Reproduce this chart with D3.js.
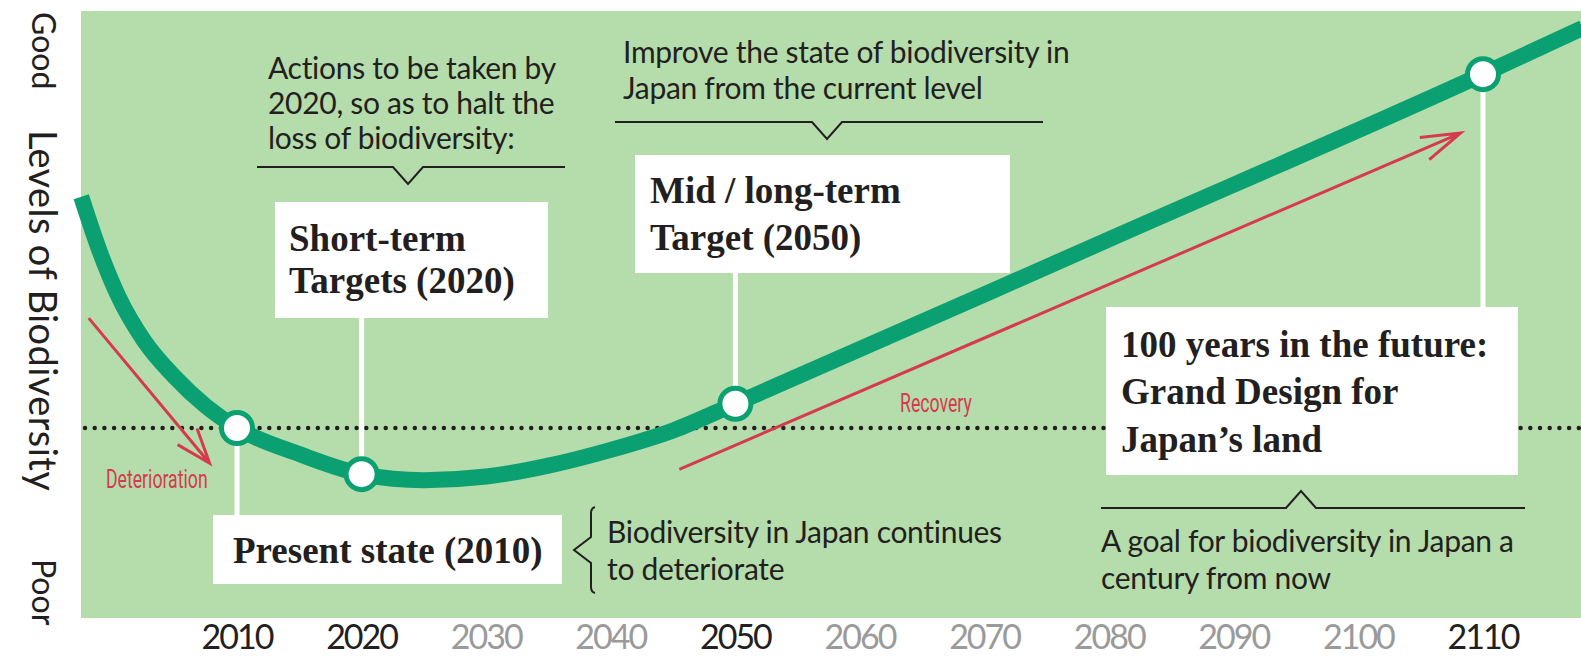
<!DOCTYPE html>
<html lang="en">
<head>
<meta charset="UTF-8">
<title>Levels of Biodiversity</title>
<script src="https://cdn.jsdelivr.net/npm/d3@7"></script>
<style>
    body { margin: 0; background: #fff; }
    svg { display: block; }
    .sans { font-family: Lato, "Open Sans", sans-serif; fill: #231f20; }
    .serif { font-family: "Liberation Serif", "DejaVu Serif", serif; font-weight: bold; fill: #231f20; }
</style>
</head>
<body>
<div id="chart"></div>
<script>
    // values (level: 0 = panel bottom, 100 = panel top)
    const years  = [1997.5, 1999, 2000.5, 2002.5, 2005, 2007.5, 2010, 2015, 2020, 2025, 2030, 2035, 2040, 2045, 2050, 2080, 2110, 2118]
    const levels = [69.4, 60.3, 52.9, 45.8, 39.7, 34.9, 31.3, 27.0, 23.7, 22.7, 23.3, 25.1, 27.7, 30.9, 35.3, 62.4, 89.6, 97.2]
    const milestoneYears = [2010, 2020, 2050, 2110]
    const tickLabels = ["2010", "2020", "2030", "2040", "2050", "2060", "2070", "2080", "2090", "2100", "2110"]
    const presentLevel = 31.3

    const boxTexts = [
        ["Present state (2010)"],
        ["Short-term", "Targets (2020)"],
        ["Mid / long-term", "Target (2050)"],
        ["100 years in the future:", "Grand Design for", "Japan\u2019s land"]
    ]
    const noteTexts = [
        ["Actions to be taken by", "2020, so as to halt the", "loss of biodiversity:"],
        ["Improve the state of biodiversity in", "Japan from the current level"],
        ["Biodiversity in Japan continues", "to deteriorate"],
        ["A goal for biodiversity in Japan a", "century from now"]
    ]
    const trendLabels = ["Deterioration", "Recovery"]
    const trendArrows = [
        {from: [1998.1, 49.4], to: [2007.8, 25.5]},
        {from: [2045.5, 24.5], to: [2108.2, 79.9]}
    ]

    const width = 1581
    const height = 657
    const panel = {left: 81, top: 11, right: 1581, bottom: 618}
    const green = "#0ba071"
    const red = "#d63a4e"
    const ink = "#231f20"

    const x = d3.scaleLinear().domain([2010, 2110]).range([237, 1483])
    const y = d3.scaleLinear().domain([0, 100]).range([panel.bottom, panel.top])

    const svg = d3.select("#chart").append("svg")
        .attr("width", width)
        .attr("height", height)

    svg.append("rect")
        .attr("x", panel.left)
        .attr("y", panel.top)
        .attr("width", panel.right - panel.left)
        .attr("height", panel.bottom - panel.top)
        .attr("fill", "#b5dcab")

    // y axis words
    const yWords = [
        {text: "Good", x: 32, y: 12, size: 32, ls: 0},
        {text: "Levels of Biodiversity", x: 29, y: 130, size: 38, ls: 0.4},
        {text: "Poor", x: 32, y: 559, size: 32, ls: 0}
    ]
    svg.selectAll(".ylab")
        .data(yWords)
        .enter().append("text")
        .attr("class", "sans")
        .attr("transform", (d) => `translate(${d.x}, ${d.y}) rotate(90)`)
        .style("font-size", (d) => `${d.size}px`)
        .style("letter-spacing", (d) => `${d.ls}px`)
        .text((d) => d.text)

    // x axis labels
    svg.selectAll(".tick-label")
        .data(tickLabels)
        .enter().append("text")
        .attr("class", "sans")
        .attr("x", (d) => x(+d))
        .attr("y", 649)
        .attr("text-anchor", "middle")
        .style("font-size", "34px")
        .style("letter-spacing", "-2px")
        .style("fill", (d) => milestoneYears.includes(+d) ? ink : "#9a9a9a")
        .text((d) => d)

    // present level dotted line
    svg.append("line")
        .attr("x1", panel.left + 4)
        .attr("x2", panel.right)
        .attr("y1", y(presentLevel))
        .attr("y2", y(presentLevel))
        .attr("stroke", ink)
        .attr("stroke-width", 4.5)
        .attr("stroke-linecap", "round")
        .attr("stroke-dasharray", "0 9.7")

    // red trend arrows
    function arrowPath(a, wing, spread) {
        const x0 = x(a.from[0]), y0 = y(a.from[1])
        const x1 = x(a.to[0]), y1 = y(a.to[1])
        const ang = Math.atan2(y0 - y1, x0 - x1)
        const r = spread * Math.PI / 180
        const w1 = [x1 + wing * Math.cos(ang + r), y1 + wing * Math.sin(ang + r)]
        const w2 = [x1 + wing * Math.cos(ang - r), y1 + wing * Math.sin(ang - r)]
        return `M${x0},${y0}L${x1},${y1}M${w1[0]},${w1[1]}L${x1},${y1}L${w2[0]},${w2[1]}`
    }
    svg.selectAll(".trend")
        .data(trendArrows)
        .enter().append("path")
        .attr("d", (d, i) => arrowPath(d, i === 0 ? 37 : 41, i === 0 ? 20 : 17))
        .attr("fill", "none")
        .attr("stroke", red)
        .attr("stroke-width", 3)

    const trendPos = [{x: 106, y: 488}, {x: 900, y: 412}]
    svg.selectAll(".trend-label")
        .data(trendLabels)
        .enter().append("text")
        .attr("transform", (d, i) => `translate(${trendPos[i].x}, ${trendPos[i].y}) scale(0.68, 1)`)
        .style("font-family", "Roboto, sans-serif")
        .style("font-size", "26px")
        .style("fill", red)
        .text((d) => d)

    // boxes
    const boxLayout = [
        {x: 213, y: 515, w: 349, h: 69, tx: 233, base: [563], year: 2010},
        {x: 275, y: 202, w: 273, h: 116, tx: 289, base: [251, 293], year: 2020},
        {x: 635, y: 155, w: 375, h: 118, tx: 650, base: [203, 250], year: 2050},
        {x: 1106, y: 307, w: 412, h: 168, tx: 1121, base: [357, 404, 452], year: 2110}
    ]

    const levelAt = (yr) => levels[years.indexOf(yr)]

    // white connectors from milestones to boxes
    svg.selectAll(".connector")
        .data(boxLayout)
        .enter().append("line")
        .attr("x1", (d) => x(d.year))
        .attr("x2", (d) => x(d.year))
        .attr("y1", (d) => y(levelAt(d.year)))
        .attr("y2", (d) => d.y + d.h / 2)
        .attr("stroke", "#fff")
        .attr("stroke-width", 5)

    const boxes = svg.selectAll(".box")
        .data(boxLayout)
        .enter().append("g")

    boxes.append("rect")
        .attr("x", (d) => d.x)
        .attr("y", (d) => d.y)
        .attr("width", (d) => d.w)
        .attr("height", (d) => d.h)
        .attr("fill", "#fff")

    boxes.each(function (d, i) {
        d3.select(this).selectAll("text")
            .data(boxTexts[i])
            .enter().append("text")
            .attr("class", "serif")
            .attr("x", d.tx)
            .attr("y", (t, j) => d.base[j])
            .style("font-size", "37px")
            .text((t) => t)
    })

    // the curve
    const line = d3.line()
        .x((d) => x(d[0]))
        .y((d) => y(d[1]))
        .curve(d3.curveMonotoneX)

    svg.append("path")
        .datum(years.map((yr, i) => [yr, levels[i]]))
        .attr("d", line)
        .attr("fill", "none")
        .attr("stroke", green)
        .attr("stroke-width", 16)

    svg.selectAll(".milestone")
        .data(milestoneYears)
        .enter().append("circle")
        .attr("cx", (d) => x(d))
        .attr("cy", (d) => y(levelAt(d)))
        .attr("r", 15.5)
        .attr("fill", "#fff")
        .attr("stroke", green)
        .attr("stroke-width", 5)

    // notes with brackets
    const noteLayout = [
        {tx: 268, base: [79, 114, 149]},
        {tx: 623, base: [63, 99]},
        {tx: 607, base: [543, 580]},
        {tx: 1101, base: [552, 589]}
    ]
    noteLayout.forEach((n, i) => {
        svg.selectAll(`.note${i}`)
            .data(noteTexts[i])
            .enter().append("text")
            .attr("class", "sans")
            .attr("x", n.tx)
            .attr("y", (t, j) => n.base[j])
            .style("font-size", "30px")
            .style("letter-spacing", "-0.3px")
            .text((t) => t)
    })

    const brackets = [
        "M257,167L393,167L408,184L423,167L565,167",
        "M615,122L812,122L827,139L842,122L1043,122",
        "M1101,508L1286,508L1301,491L1316,508L1525,508",
        "M595,507Q591,508 591,513L591,537L574,550L591,563L591,587Q591,592 595,593"
    ]
    svg.selectAll(".bracket")
        .data(brackets)
        .enter().append("path")
        .attr("d", (d) => d)
        .attr("fill", "none")
        .attr("stroke", ink)
        .attr("stroke-width", 2)
</script>
</body>
</html>
